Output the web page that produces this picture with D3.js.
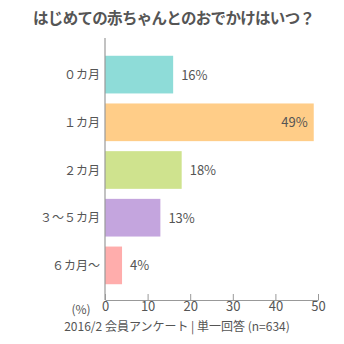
<!DOCTYPE html>
<html>
<head>
<meta charset="utf-8">
<script src="https://cdn.jsdelivr.net/npm/d3@7"></script>
<style>
  html, body { margin: 0; padding: 0; background: #fff; }
  svg { display: block; font-family: "Noto Sans CJK JP", "Noto Sans", sans-serif; }
</style>
</head>
<body>
<svg id="chart" width="344" height="344"></svg>
<script>
// Survey: when babies were first taken out
const categories = ["０カ月", "１カ月", "２カ月", "３～５カ月", "６カ月～"];
const values = [16, 49, 18, 13, 4];
const colors = ["#8edcd8", "#ffcd88", "#cfe38e", "#c4a5de", "#ffadac"];
const ticks = [0, 10, 20, 30, 40, 50];

const svg = d3.select("#chart");
const textColor = "#555";

const x = d3.scaleLinear().domain([0, 50]).range([105, 318]);
const y = d3.scaleBand().domain(categories).range([51, 289]).paddingInner(0.21).paddingOuter(0.1);

// title
svg.append("text")
  .attr("x", 33).attr("y", 24)
  .attr("textLength", 282).attr("lengthAdjust", "spacing")
  .attr("font-size", 15.5).attr("font-weight", "bold")
  .attr("fill", textColor)
  .text("はじめての赤ちゃんとのおでかけはいつ？");

// bars
svg.selectAll("rect.bar").data(values).join("rect")
  .attr("class", "bar")
  .attr("x", x(0))
  .attr("y", (d, i) => y(categories[i]))
  .attr("width", d => x(d) - x(0))
  .attr("height", y.bandwidth())
  .attr("fill", (d, i) => colors[i]);

// value labels: inside the bar when it is long, else just past its end
svg.selectAll("text.val").data(values).join("text")
  .attr("class", "val")
  .attr("x", d => d > 40 ? x(d) - 6 : x(d) + 8)
  .attr("y", (d, i) => y(categories[i]) + y.bandwidth() / 2 + 5)
  .attr("text-anchor", d => d > 40 ? "end" : "start")
  .attr("font-size", 13)
  .attr("fill", textColor)
  .text(d => d + "%");

// category labels
svg.selectAll("text.cat").data(categories).join("text")
  .attr("class", "cat")
  .attr("x", 100)
  .attr("y", d => y(d) + y.bandwidth() / 2 + 4.5)
  .attr("text-anchor", "end")
  .attr("font-size", 12)
  .attr("fill", textColor)
  .text(d => d);

// vertical baseline
svg.append("line")
  .attr("x1", x(0)).attr("x2", x(0))
  .attr("y1", 38).attr("y2", 300)
  .attr("stroke", "#999").attr("stroke-width", 1.2);

// bottom axis with ticks pointing up
const xAxis = d3.axisBottom(x).tickValues(ticks).tickSizeInner(-6).tickSizeOuter(0).tickPadding(2);
const gx = svg.append("g").attr("transform", "translate(0,300)").call(xAxis);
gx.select(".domain").attr("stroke", "#999").attr("stroke-width", 1.2);
gx.selectAll(".tick line").attr("stroke", "#999");
gx.selectAll(".tick text")
  .attr("font-size", 13).attr("fill", textColor)
  .attr("font-family", "\"Noto Sans CJK JP\", sans-serif");

// unit label
svg.append("text")
  .attr("x", 81).attr("y", 314)
  .attr("text-anchor", "middle")
  .attr("font-size", 12).attr("fill", textColor)
  .text("(%)");

// source note
svg.append("text")
  .attr("x", 177).attr("y", 331)
  .attr("text-anchor", "middle")
  .attr("font-size", 12).attr("fill", textColor)
  .text("2016/2 会員アンケート | 単一回答 (n=634)");
</script>
</body>
</html>
